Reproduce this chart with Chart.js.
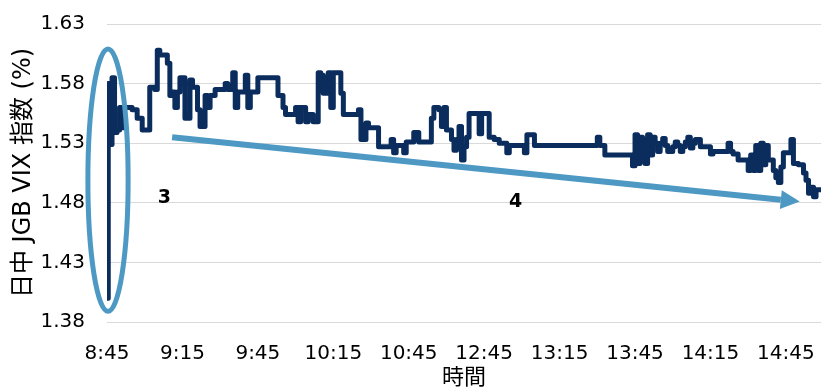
<!DOCTYPE html>
<html>
<head>
<meta charset="utf-8">
<script src="https://cdn.jsdelivr.net/npm/chart.js@4.4.1/dist/chart.umd.min.js"></script>
<style>
  html, body { margin: 0; padding: 0; background: #ffffff; }
  #wrap { width: 835px; height: 387px; }
</style>
</head>
<body>
<div id="wrap"><canvas id="chart" width="835" height="387"></canvas></div>
<script>
// Axis labels
const tickLabels = ['8:45', '9:15', '9:45', '10:15', '10:45', '12:45', '13:15', '13:45', '14:15', '14:45'];
const yTicks = [1.38, 1.43, 1.48, 1.53, 1.58, 1.63];

// Intraday JGB VIX readings: each value holds from its time stamp until the next one
const times = [
  '8:45', '8:45:30', '8:46', '8:47', '8:48', '8:49', '8:50', '8:51', '8:52', '8:55',
  '8:57', '8:59', '9:02', '9:04', '9:05', '9:06', '9:09', '9:10', '9:11', '9:12',
  '9:13', '9:14', '9:16', '9:18', '9:19', '9:21', '9:22', '9:24', '9:25', '9:26',
  '9:28', '9:32', '9:33', '9:35', '9:36', '9:37', '9:40', '9:41', '9:42', '9:45',
  '9:53', '9:55', '9:56', '10:00', '10:01', '10:02', '10:04', '10:05', '10:07', '10:09',
  '10:10', '10:11', '10:13', '10:14', '10:15', '10:18', '10:19', '10:25', '10:26', '10:28',
  '10:29', '10:33', '10:38', '10:39', '10:40', '10:43', '10:44', '10:47', '10:49', '10:54',
  '10:55', '10:57', '10:58', '10:59',
  '12:30', '12:32', '12:33', '12:34', '12:35', '12:36', '12:37', '12:38', '12:39', '12:43',
  '12:44', '12:47', '12:49', '12:51', '12:54', '12:55', '13:01', '13:02', '13:05', '13:30',
  '13:31', '13:33', '13:44', '13:45', '13:46', '13:47', '13:48', '13:49', '13:50', '13:51',
  '13:52', '13:53', '13:54', '13:55', '13:56', '13:57', '13:58', '14:00', '14:01', '14:02',
  '14:03', '14:04', '14:05', '14:06', '14:07', '14:08', '14:09', '14:11', '14:15', '14:16',
  '14:22', '14:23', '14:24', '14:26', '14:30', '14:31', '14:32', '14:33', '14:34', '14:35',
  '14:36', '14:37', '14:38', '14:40', '14:41', '14:42', '14:43', '14:44', '14:47', '14:48',
  '14:50', '14:52', '14:53', '14:54', '14:55', '14:56', '14:57', '14:59'
];
const vix = [
  1.400, 1.580, 1.529, 1.585, 1.539, 1.541, 1.560, 1.543, 1.560, 1.558,
  1.551, 1.541, 1.577, 1.575, 1.608, 1.604, 1.597, 1.570, 1.573, 1.560,
  1.573, 1.585, 1.551, 1.583, 1.577, 1.558, 1.544, 1.570, 1.560, 1.570,
  1.575, 1.580, 1.575, 1.589, 1.560, 1.573, 1.587, 1.560, 1.573, 1.585,
  1.570, 1.560, 1.554, 1.560, 1.548, 1.560, 1.548, 1.554, 1.548, 1.589,
  1.587, 1.572, 1.589, 1.560, 1.589, 1.572, 1.554, 1.558, 1.533, 1.547,
  1.543, 1.527, 1.533, 1.522, 1.528, 1.522, 1.531, 1.539, 1.531, 1.551,
  1.560, 1.558, 1.544, 1.560,
  1.541, 1.533, 1.524, 1.533, 1.544, 1.516, 1.527, 1.535, 1.555, 1.538,
  1.555, 1.535, 1.533, 1.530, 1.522, 1.528, 1.522, 1.537, 1.528, 1.535,
  1.528, 1.520, 1.511, 1.537, 1.513, 1.535, 1.524, 1.513, 1.537, 1.520,
  1.535, 1.530, 1.523, 1.530, 1.534, 1.528, 1.523, 1.527, 1.531, 1.528,
  1.523, 1.527, 1.531, 1.535, 1.526, 1.530, 1.533, 1.527, 1.521, 1.523,
  1.530, 1.523, 1.521, 1.516, 1.507, 1.520, 1.507, 1.528, 1.507, 1.530,
  1.512, 1.528, 1.516, 1.507, 1.501, 1.497, 1.510, 1.522, 1.533, 1.513,
  1.512, 1.505, 1.499, 1.488, 1.493, 1.485, 1.491, 1.491
];

// Trading clock: morning 8:45-11:00, afternoon from 12:30; the lunch break is skipped
const MORNING_START = 8 * 60 + 45;
const MORNING_LEN = 135;
const AFTERNOON_START = 12 * 60 + 30;
function sessionMinute(label) {
  const p = label.split(':').map(Number);
  const t = p[0] * 60 + p[1] + (p[2] || 0) / 60;
  return t < 11 * 60 ? t - MORNING_START : MORNING_LEN + (t - AFTERNOON_START);
}

const points = times.map((t, i) => ({ x: sessionMinute(t), y: vix[i] }));

const FONT = '"DejaVu Sans", "Noto Sans CJK JP", sans-serif';
const ACCENT = '#4d99c4';

// Callout shapes: ring around the opening jump, trend arrow and step numbers
const calloutPlugin = {
  id: 'callouts',
  afterDatasetsDraw(chart) {
    const { ctx, scales: { x, y } } = chart;
    ctx.save();
    ctx.strokeStyle = ACCENT;
    ctx.fillStyle = ACCENT;

    // ring around the opening spike
    const cx = x.getPixelForValue(0.4);
    const top = y.getPixelForValue(1.609);
    const bottom = y.getPixelForValue(1.389);
    const rx = x.getPixelForValue(8) - x.getPixelForValue(0);
    ctx.lineWidth = 5;
    ctx.beginPath();
    ctx.ellipse(cx, (top + bottom) / 2, rx, (bottom - top) / 2, 0, 0, Math.PI * 2);
    ctx.stroke();

    // downward trend arrow
    const x0 = x.getPixelForValue(25.9), y0 = y.getPixelForValue(1.535);
    const x1 = x.getPixelForValue(275.5), y1 = y.getPixelForValue(1.481);
    const ang = Math.atan2(y1 - y0, x1 - x0);
    const headLen = 19, headHalf = 9.5;
    const bx = x1 - headLen * Math.cos(ang), by = y1 - headLen * Math.sin(ang);
    ctx.lineWidth = 6;
    ctx.lineCap = 'butt';
    ctx.beginPath();
    ctx.moveTo(x0, y0);
    ctx.lineTo(bx, by);
    ctx.stroke();
    ctx.beginPath();
    ctx.moveTo(x1, y1);
    ctx.lineTo(bx + headHalf * Math.sin(ang), by - headHalf * Math.cos(ang));
    ctx.lineTo(bx - headHalf * Math.sin(ang), by + headHalf * Math.cos(ang));
    ctx.closePath();
    ctx.fill();

    // step numbers
    ctx.fillStyle = '#000000';
    ctx.font = 'bold 19px ' + FONT;
    ctx.textAlign = 'center';
    ctx.textBaseline = 'middle';
    ctx.fillText('3', x.getPixelForValue(22.8), y.getPixelForValue(1.484));
    ctx.fillText('4', x.getPixelForValue(162.5), y.getPixelForValue(1.481));
    ctx.restore();
  }
};

new Chart(document.getElementById('chart'), {
  type: 'line',
  data: {
    datasets: [{
      data: points,
      borderColor: '#0b2d5e',
      borderWidth: 5,
      stepped: true,
      pointRadius: 0,
      fill: false,
      borderJoinStyle: 'round',
      borderCapStyle: 'round'
    }]
  },
  options: {
    responsive: false,
    animation: false,
    devicePixelRatio: 1,
    layout: { padding: { top: 24, right: 6, left: 0, bottom: 0 } },
    plugins: { legend: { display: false }, tooltip: { enabled: false } },
    scales: {
      x: {
        type: 'linear',
        min: 0,
        max: 284,
        grid: { display: false, drawTicks: false },
        border: { display: false },
        afterBuildTicks(scale) {
          scale.ticks = tickLabels.map((_, i) => ({ value: i * 30 }));
        },
        afterFit(scale) { scale.height = 65; },
        ticks: {
          autoSkip: false,
          maxRotation: 0,
          padding: 20,
          color: '#000000',
          font: { family: FONT, size: 20 },
          callback: (v) => tickLabels[Math.round(v / 30)] ?? ''
        },
        title: {
          display: true,
          text: '時間',
          color: '#000000',
          font: { family: FONT, size: 22 },
          padding: { top: 0, bottom: -4 }
        }
      },
      y: {
        min: 1.38,
        max: 1.63,
        grid: { color: '#d9d9d9', lineWidth: 1, drawTicks: false },
        border: { display: false },
        afterBuildTicks(scale) {
          scale.ticks = yTicks.map(v => ({ value: v }));
        },
        afterFit(scale) {
          scale.width = 107;
          scale.paddingTop = 0;
          scale.paddingBottom = 0;
        },
        ticks: {
          padding: 22,
          color: '#000000',
          font: { family: FONT, size: 20 },
          callback: (v) => Number(v).toFixed(2)
        },
        title: {
          display: true,
          text: '日中 JGB VIX 指数 (%)',
          color: '#000000',
          font: { family: FONT, size: 24 },
          padding: { top: 9, bottom: 0 }
        }
      }
    }
  },
  plugins: [calloutPlugin]
});
</script>
</body>
</html>
